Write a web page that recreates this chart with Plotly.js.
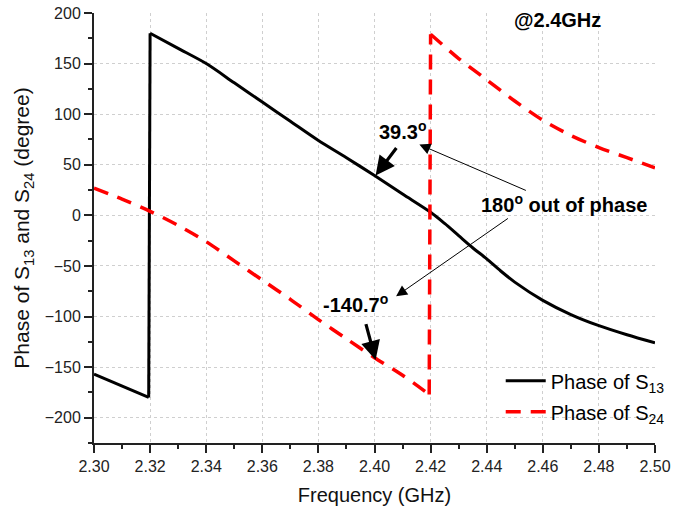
<!DOCTYPE html>
<html>
<head>
<meta charset="utf-8">
<script src="https://cdn.plot.ly/plotly-3.0.1.min.js"></script>
<style>html,body{margin:0;padding:0;background:#fff;}#chart{width:699px;height:514px;}</style>
</head>
<body>
<div id="chart"></div>
<script>
// Frequency (GHz) and phase (degree) of S13
var freqS13 = [2.30, 2.31, 2.3195, 2.32, 2.33, 2.34, 2.35, 2.36, 2.37, 2.38, 2.39, 2.40, 2.41, 2.42, 2.425, 2.43, 2.435, 2.44, 2.445, 2.45, 2.46, 2.47, 2.48, 2.49, 2.50];
var phaseS13 = [-157, -168.5, -180, 180, 165, 150, 131, 112, 93, 74, 57, 39.3, 21, 3, -8, -20, -32, -43, -55, -66, -84, -98, -109, -118, -126];
// Frequency (GHz) and phase (degree) of S24
var freqS24 = [2.30, 2.31, 2.32, 2.33, 2.34, 2.35, 2.36, 2.37, 2.38, 2.39, 2.40, 2.41, 2.4195, 2.42, 2.43, 2.44, 2.45, 2.46, 2.47, 2.48, 2.49, 2.50];
var phaseS24 = [27, 16, 4, -10, -26, -45, -64, -83, -103, -122, -140.7, -158, -177, 179, 155, 134, 113, 94, 79, 67, 57, 47];

var seriesNames = ['Phase of S<sub>13</sub>', 'Phase of S<sub>24</sub>'];
var xTickVals = [2.30, 2.32, 2.34, 2.36, 2.38, 2.40, 2.42, 2.44, 2.46, 2.48, 2.50];
var xTickText = ['2.30', '2.32', '2.34', '2.36', '2.38', '2.40', '2.42', '2.44', '2.46', '2.48', '2.50'];
var yTickVals = [-200, -150, -100, -50, 0, 50, 100, 150, 200];

// split a wrapped-phase series at its 360-degree jump so each branch is smoothed on its own
function branchTraces(xs, ys, name, group, lineStyle) {
  var j = 1;
  for (var i = 1; i < ys.length; i++) { if (Math.abs(ys[i] - ys[i - 1]) > 180) { j = i; break; } }
  var base = {type: 'scatter', mode: 'lines', legendgroup: group, hoverinfo: 'skip'};
  function mk(a, b, show) {
    var shape = (b - a) > 3 ? 'spline' : 'linear';
    return Object.assign({}, base, {
      x: xs.slice(a, b), y: ys.slice(a, b), name: name, showlegend: show,
      line: Object.assign({}, lineStyle, {shape: shape, smoothing: 0.8})
    });
  }
  return [mk(0, j, true), mk(j - 1, j + 1, false), mk(j, xs.length, false)];
}

var traces = []
  .concat(branchTraces(freqS13, phaseS13, seriesNames[0], 's13', {color: '#000000', width: 3}))
  .concat(branchTraces(freqS24, phaseS24, seriesNames[1], 's24', {color: '#ff0000', width: 3.5, dash: '15px,10px'}));

var annFont = {family: 'Liberation Sans, Arial, sans-serif', size: 20, color: '#000'};
var layout = {
  width: 699, height: 514,
  margin: {l: 94, r: 44, t: 13, b: 71},
  paper_bgcolor: '#ffffff', plot_bgcolor: '#ffffff',
  font: {family: 'Liberation Sans, Arial, sans-serif', color: '#111'},
  showlegend: true,
  legend: {x: 0.725, y: 0.19, xanchor: 'left', yanchor: 'top', bgcolor: 'rgba(0,0,0,0)',
           font: {size: 20, color: '#000'}, tracegroupgap: 2, itemwidth: 40},
  xaxis: {
    range: [2.30, 2.50], tickmode: 'array', tickvals: xTickVals, ticktext: xTickText,
    showline: true, linecolor: '#222', linewidth: 2, mirror: false,
    ticks: 'outside', ticklen: 8, tickwidth: 2, tickcolor: '#222',
    tickfont: {size: 16, color: '#222'},
    showgrid: true, gridcolor: '#cfcfcf', gridwidth: 1, griddash: 'dot',
    zeroline: false,
    minor: {ticks: 'outside', ticklen: 4, tickwidth: 2, tickcolor: '#222', dtick: 0.01, tick0: 2.30, showgrid: false},
    title: {text: 'Frequency (GHz)', font: {size: 20, color: '#111'}, standoff: 14}
  },
  yaxis: {
    range: [-225, 200], tickmode: 'array', tickvals: yTickVals,
    showline: true, linecolor: '#222', linewidth: 2, mirror: false,
    ticks: 'outside', ticklen: 8, tickwidth: 2, tickcolor: '#222',
    tickfont: {size: 16, color: '#222'},
    showgrid: true, gridcolor: '#cfcfcf', gridwidth: 1, griddash: 'dot',
    zeroline: false,
    minor: {ticks: 'outside', ticklen: 4, tickwidth: 2, tickcolor: '#222', dtick: 25, tick0: 0, showgrid: false},
    title: {text: 'Phase of S<sub>13</sub> and S<sub>24</sub> (degree)', font: {size: 21, color: '#111'}, standoff: 9}
  },
  annotations: [
    {x: 2.4652, y: 193, xref: 'x', yref: 'y', text: '<b>@2.4GHz</b>', showarrow: false, font: annFont},
    {x: 2.410, y: 84, xref: 'x', yref: 'y', text: '<b>39.3<sup>o</sup></b>', showarrow: false, font: annFont},
    {x: 2.3932, y: -87, xref: 'x', yref: 'y', text: '<b>-140.7<sup>o</sup></b>', showarrow: false, font: annFont},
    {x: 2.4677, y: 12, xref: 'x', yref: 'y', text: '<b>180<sup>o</sup> out of phase</b>', showarrow: false, font: annFont},
    // thick arrows
    {x: 2.4004, y: 39.3, xref: 'x', yref: 'y', ax: 2.4082, ay: 68, axref: 'x', ayref: 'y', text: '',
     showarrow: true, arrowhead: 2, arrowsize: 1.2, arrowwidth: 3.2, arrowcolor: '#000', standoff: 0},
    {x: 2.4004, y: -143, xref: 'x', yref: 'y', ax: 2.3968, ay: -106, axref: 'x', ayref: 'y', text: '',
     showarrow: true, arrowhead: 2, arrowsize: 1.2, arrowwidth: 3.2, arrowcolor: '#000', standoff: 0},
    // thin arrows
    {x: 2.4160, y: 70, xref: 'x', yref: 'y', ax: 2.4545, ay: 24, axref: 'x', ayref: 'y', text: '',
     showarrow: true, arrowhead: 2, arrowsize: 2.2, arrowwidth: 1, arrowcolor: '#000', standoff: 0},
    {x: 2.4077, y: -80, xref: 'x', yref: 'y', ax: 2.4481, ay: -2, axref: 'x', ayref: 'y', text: '',
     showarrow: true, arrowhead: 2, arrowsize: 2.2, arrowwidth: 1, arrowcolor: '#000', standoff: 0}
  ]
};

Plotly.newPlot('chart', traces, layout, {displayModeBar: false, staticPlot: true});
</script>
</body>
</html>
